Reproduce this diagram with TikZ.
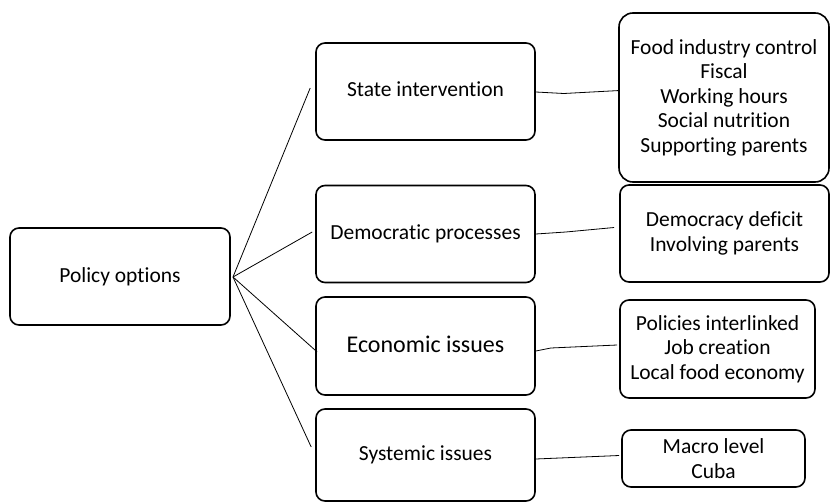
\documentclass[tikz,border=0pt]{standalone}
\usepackage{fontspec}
\setmainfont{Carlito}[Ligatures=NoCommon]
\usetikzlibrary{calc}
\begin{document}
\begin{tikzpicture}[x=1pt,y=-1pt,
  box/.style={draw, line width=1.6pt, rounded corners=9pt, align=center,
    font=\fontsize{21.5}{24.5}\selectfont, inner sep=0pt},
  link/.style={line width=0.8pt}]
\useasboundingbox (0,0) rectangle (830,503);

% root
\node[box, minimum width=220pt, minimum height=97pt] (po) at (120,276.5) {Policy options};
\coordinate (hub) at (233,277);

% policy areas
\node[box, minimum width=219pt, minimum height=97pt] (si) at (425.5,91.5) {\raisebox{4pt}{State intervention}};
\node[box, minimum width=219pt, minimum height=97pt] (dp) at (425.5,234) {\raisebox{4pt}{Democratic processes}};
\node[box, minimum width=219pt, minimum height=98pt, font=\fontsize{24}{28}\selectfont] (ei) at (425.5,346) {\raisebox{4pt}{Economic issues}};
\node[box, minimum width=219pt, minimum height=92pt] (sy) at (425.5,455) {Systemic issues};

% details
\node[box, rounded corners=14pt, minimum width=210pt, minimum height=169pt] (d1) at (724,97.5) {Food industry control\\Fiscal\\Working hours\\Social nutrition\\Supporting parents};
\node[box, minimum width=209pt, minimum height=97pt] (d2) at (724.5,233.5) {Democracy deficit\\Involving parents};
\node[box, minimum width=195pt, minimum height=98pt] (d3) at (717.5,349) {Policies interlinked\\Job creation\\Local food economy};
\node[box, minimum width=183pt, minimum height=57pt] (d4) at (713.5,458.5) {Macro level\\Cuba};

% fan from the root
\draw[link] (hub) -- ($(si.west)+(-5,-3.5)$);
\draw[link] (hub) -- ($(dp.west)+(-3,-2)$);
\draw[link] (hub) -- ($(ei.west)+(2,6)$);
\draw[link] (hub) -- ($(sy.west)+(-4,-8)$);

% links to the details
\draw[link] (si.east) ++(0,0.5) -- ++(28,1.5) -- ++(56,-3) coordinate (e1);
\draw[link] (dp.east) -- ++(30,-2) -- ($(d2.west)+(-5,-6)$);
\draw[link] (ei.east) ++(0,5) -- ++(15,-3) -- ($(d3.west)+(-2,-4)$);
\draw[link] (sy.east) ++(0,4) -- ($(d4.west)+(-2,-3)$);
\end{tikzpicture}
\end{document}
